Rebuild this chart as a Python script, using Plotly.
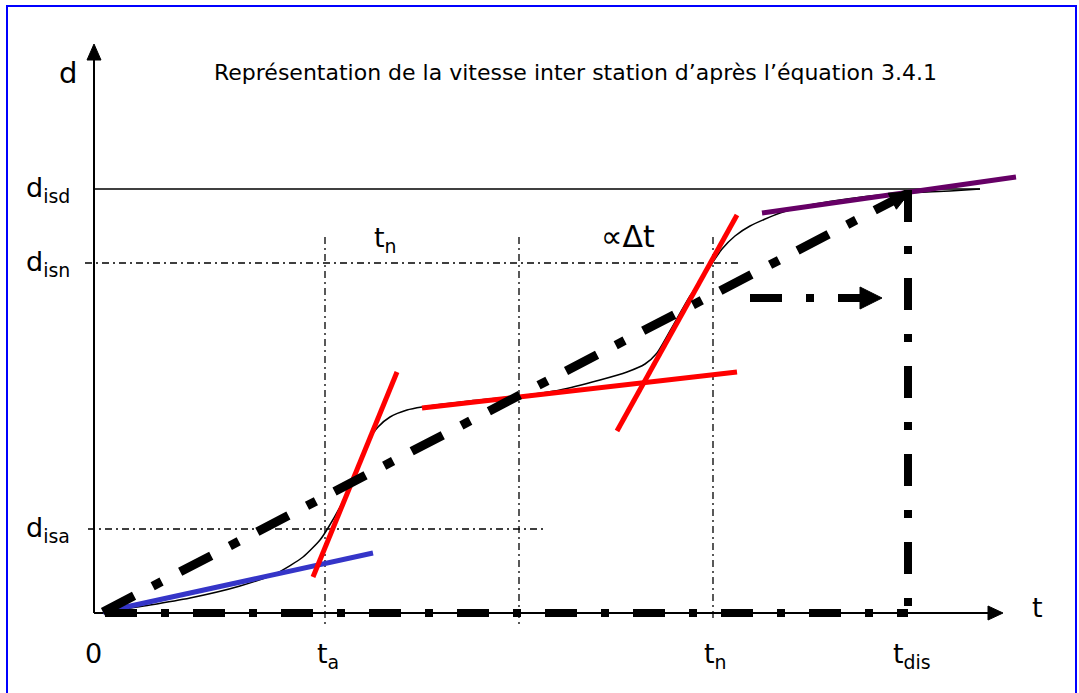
import numpy as np
import plotly.graph_objects as go

# Distance–time diagram (t to the right, d upward); 1 unit = 1 px on screen.
# Marked instants and distances
t_a, t_mid, t_n, t_dis = 231, 425, 619, 814
d_isa, d_isn, d_isd = 84, 350, 424

# Inter-station trajectory d(t)
curve_t = [9, 56, 96, 146, 183, 209, 226, 234, 248, 258, 267, 275, 284, 296, 313, 328,
           376, 425, 466, 506, 533, 551, 563, 576, 596, 611, 619, 628, 641, 656, 686,
           716, 746, 776, 813, 856, 886]
curve_d = [1, 8, 15, 27, 40, 56, 73, 85, 110, 133, 156, 173, 186, 196, 203, 206,
           212, 217, 223, 233, 241, 249, 260, 282, 317, 339, 351, 364, 377, 387, 400,
           408, 413, 417, 420, 422, 424]

# Tangent segments (start, end)
blue_t, blue_d = [9, 279], [1, 60]
red1_t, red1_d = [219, 303], [36, 241]
red2_t, red2_d = [328, 643], [205, 241]
red3_t, red3_d = [523, 643], [182, 398]
purple_t, purple_d = [668, 922], [400, 436]

# Mean-speed chord and its projections
chord_t, chord_d = [9, t_dis], [1, 420]
base_t, base_d = [11, t_dis], [0, 0]
drop_t, drop_d = [t_dis, t_dis], [423, 7]
shift_t, shift_d = [656, 788], [315, 315]

# Axis extents
t_axis_end, d_axis_end = 909, 569

fig = go.Figure()


def seg(x, y, color="black", width=1.0, dash="solid"):
    fig.add_trace(go.Scatter(x=x, y=y, mode="lines",
                             line=dict(color=color, width=width, dash=dash),
                             hoverinfo="skip", showlegend=False))


def head(tip_x, tip_y, from_x, from_y, length, half_w, color="black"):
    v = np.array([tip_x - from_x, tip_y - from_y], dtype=float)
    v /= np.linalg.norm(v)
    n = np.array([-v[1], v[0]])
    tip = np.array([tip_x, tip_y], dtype=float)
    base = tip - v * length
    p1, p2 = base + n * half_w, base - n * half_w
    fig.add_trace(go.Scatter(x=[tip[0], p1[0], p2[0], tip[0]],
                             y=[tip[1], p1[1], p2[1], tip[1]],
                             mode="lines", fill="toself", fillcolor=color,
                             line=dict(color=color, width=1),
                             hoverinfo="skip", showlegend=False))


thin_dd = "7px,4px,2px,4px"
thick_dd = "32px,24px,8px,24px"

# Reference levels and instants
seg([0, 886], [d_isd, d_isd], width=1.6)
seg([-9, 646], [d_isn, d_isn], width=1.3, dash=thin_dd)
seg([-6, 451], [d_isa, d_isa], width=1.3, dash=thin_dd)
seg([t_a, t_a], [376, -15], width=1.3, dash=thin_dd)
seg([t_mid, t_mid], [376, -15], width=1.3, dash=thin_dd)
seg([t_n, t_n], [376, -8], width=1.3, dash=thin_dd)

# Axes
seg([0, 0], [0, d_axis_end - 14], width=2)
head(0, d_axis_end, 0, 0, 16, 7)
seg([0, t_axis_end - 14], [0, 0], width=2)
head(t_axis_end, 0, 0, 0, 15, 7)

# Trajectory
fig.add_trace(go.Scatter(x=curve_t, y=curve_d, mode="lines",
                         line=dict(color="black", width=1.5, shape="spline", smoothing=0.6),
                         hoverinfo="skip", showlegend=False))

# Tangents
seg(blue_t, blue_d, color="#3535c8", width=5)
seg(red1_t, red1_d, color="#ff0000", width=5)
seg(red2_t, red2_d, color="#ff0000", width=5)
seg(red3_t, red3_d, color="#ff0000", width=5)
seg(purple_t, purple_d, color="#660066", width=5)

# Mean-speed chord with projections
seg(base_t, base_d, width=8, dash=thick_dd)
seg(chord_t, chord_d, width=9, dash="35px,21px,10px,21px")
head(chord_t[1] + 2, chord_d[1] + 1, chord_t[0], chord_d[0], 20, 9)
seg(drop_t, drop_d, width=8, dash=thick_dd)
seg([shift_t[0], shift_t[1] - 20], shift_d, width=8, dash=thick_dd)
head(shift_t[1], shift_d[1], shift_t[0], shift_d[0], 22, 11)

# Border
fig.add_shape(type="rect", x0=-87, x1=982, y0=607, y1=-100,
              line=dict(color="#0000ff", width=2), layer="below")

texts = [
    (-26, 540, "d", "center", 29),
    (-22, 424, "d<sub>isd</sub>", "right", 27),
    (-22, 350, "d<sub>isn</sub>", "right", 27),
    (-22, 84, "d<sub>isa</sub>", "right", 27),
    (291, 374, "t<sub>n</sub>", "center", 27),
    (534, 377, "∝Δt", "center", 30),
    (-1, -40, "0", "center", 27),
    (234, -42, "t<sub>a</sub>", "center", 27),
    (621, -42, "t<sub>n</sub>", "center", 27),
    (818, -42, "t<sub>dis</sub>", "center", 27),
    (943, 6, "t", "center", 27),
]
for x, y, s, xa, fs in texts:
    fig.add_annotation(x=x, y=y, text=s, showarrow=False, xanchor=xa, yanchor="middle",
                       font=dict(family="DejaVu Sans", size=fs, color="black"))

fig.add_annotation(x=481, y=541, showarrow=False, xanchor="center", yanchor="middle",
                   text="Représentation de la vitesse inter station d’après l’équation 3.4.1",
                   font=dict(family="DejaVu Sans", size=22, color="black"))

fig.update_layout(
    width=1079, height=693,
    margin=dict(l=0, r=0, t=0, b=0),
    paper_bgcolor="white", plot_bgcolor="white",
    xaxis=dict(range=[-94, 985], visible=False, fixedrange=True),
    yaxis=dict(range=[-80, 613], visible=False, fixedrange=True),
)

fig.write_html("out.html")
